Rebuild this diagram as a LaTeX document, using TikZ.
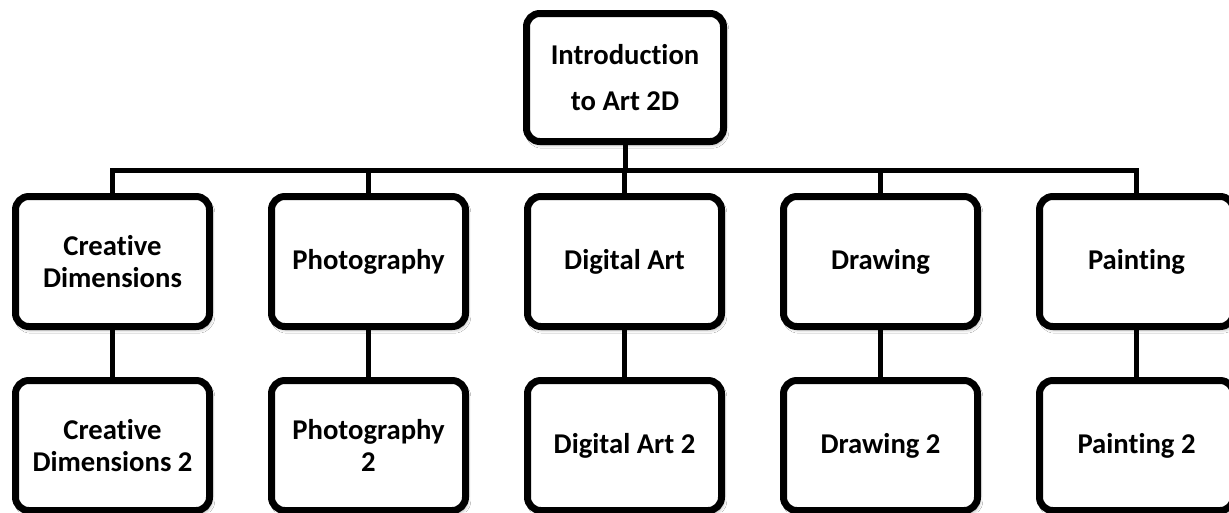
\documentclass[tikz,border=0pt]{standalone}
\usepackage{fontspec}
\setmainfont{Carlito}
\newcommand{\nlg}{\kern0pt }
\usetikzlibrary{shadows.blur}
\begin{document}
\begin{tikzpicture}[x=0.75pt,y=-0.75pt,
  boxstyle/.style={draw=black, fill=white, line width=5.25pt, rounded corners=10pt,
    minimum width=145.5pt, minimum height=97.5pt, align=center, inner sep=0pt,
    font=\fontsize{21.5}{24}\selectfont\bfseries, text=black,
    blur shadow={shadow xshift=1.5pt, shadow yshift=-2.5pt, shadow blur radius=2.5pt, shadow opacity=35}},
  topstyle/.style={boxstyle, minimum width=147.75pt, minimum height=96pt,
    font=\fontsize{21.5}{34}\selectfont\bfseries},
  linkstyle/.style={draw=black, line width=3.75pt}]
\useasboundingbox (0,0) rectangle (1229,512);
\clip (0,0) rectangle (1229,512);
\fill[white] (0,0) rectangle (1229,512);
\coordinate (bus) at (625,170);
% boxes
\node[topstyle] (top) at (625,77.5) {Introduct\nlg ion\\to Art 2D};
\node[boxstyle] (a1) at (112.5,261.5) {Creat\nlg ive\\Dimensions};
\node[boxstyle] (a2) at (368.5,261.5) {Photography};
\node[boxstyle] (a3) at (624.5,261.5) {Digital Art};
\node[boxstyle] (a4) at (880.5,261.5) {Drawing};
\node[boxstyle] (a5) at (1136.5,261.5) {Paint\nlg ing};
\node[boxstyle] (b1) at (112.5,445.5) {Creat\nlg ive\\Dimensions 2};
\node[boxstyle] (b2) at (368.5,445.5) {Photography\\2};
\node[boxstyle] (b3) at (624.5,445.5) {Digital Art 2};
\node[boxstyle] (b4) at (880.5,445.5) {Drawing 2};
\node[boxstyle] (b5) at (1136.5,445.5) {Paint\nlg ing 2};
% connectors
\draw[linkstyle] (a1.north) |- (bus) -| (a5.north);
\draw[linkstyle] (top.south) -- (bus);
\draw[linkstyle] (bus -| a2.north) -- (a2.north);
\draw[linkstyle] (bus -| a3.north) -- (a3.north);
\draw[linkstyle] (bus -| a4.north) -- (a4.north);
\foreach \i in {1,...,5} {
  \draw[linkstyle] (a\i.south) -- (b\i.north);
}
\end{tikzpicture}
\end{document}
